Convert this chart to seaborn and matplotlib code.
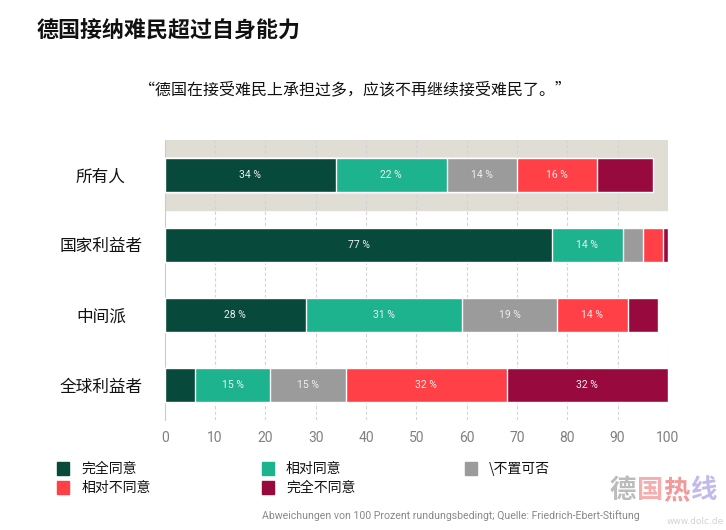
import matplotlib
matplotlib.use("Agg")
import matplotlib.pyplot as plt
import matplotlib.patches as mpatches
import numpy as np
import pandas as pd
import seaborn as sns

# 数据
groups = ["所有人", "国家利益者", "中间派", "全球利益者"]
answers = ["完全同意", "相对同意", "\\不置可否", "相对不同意", "完全不同意"]
fully_agree = [34, 77, 28, 6]
agree = [22, 14, 31, 15]
neutral = [14, 4, 19, 15]
disagree = [16, 4, 14, 32]
fully_disagree = [11, 1, 6, 32]
colors = ["#07493a", "#1db38e", "#9b9b9b", "#ff4046", "#98093e"]

values = np.array([fully_agree, agree, neutral, disagree, fully_disagree])
cums = values.cumsum(axis=0)

sns.set_theme(style="white")
plt.rcParams['font.family'] = ['Noto Sans CJK SC', 'DejaVu Sans']

fig = plt.figure(figsize=(7.26, 5.30), dpi=100)
ax = fig.add_axes([0.227, 0.2075, 0.693, 0.5285])

# 背景高亮带 (所有人)
ax.axhspan(-0.5, 0.5, color="#e0ddd5", zorder=0)

# 堆叠条形: 从总和往回画
for i in range(len(answers) - 1, -1, -1):
    df = pd.DataFrame({"group": groups, "value": cums[i]})
    sns.barplot(data=df, x="value", y="group", orient="h", color=colors[i],
                width=0.48, edgecolor="white", linewidth=1.0, saturation=1,
                ax=ax, zorder=3)

# 数值标签
for i in range(len(answers)):
    for j, g in enumerate(groups):
        v = values[i, j]
        if v >= 12:
            ax.text(cums[i, j] - v / 2, j, f"{v} %", ha="center", va="center",
                    color="#f0f0f0", fontsize=7.5, family=["Roboto", "DejaVu Sans"], zorder=5)

ax.set_xlim(0, 100)
ax.set_ylim(3.5, -0.5)
ax.set_xlabel("")
ax.set_ylabel("")
ax.set_xticks(range(0, 101, 10))
ax.set_xticklabels([str(t) for t in range(0, 101, 10)], color="#808080", fontsize=10,
                   family=["Roboto", "DejaVu Sans"])
ax.tick_params(axis="x", length=0, pad=8)
ax.tick_params(axis="y", which="major", length=0, pad=46, labelsize=12, labelcolor="#111111")
for lab in ax.get_yticklabels():
    lab.set_horizontalalignment("center")
ax.set_yticks([-0.5, 0.5, 1.5, 2.5, 3.5], minor=True)
ax.tick_params(axis="y", which="minor", length=8, color="#cccccc", width=0.8)
ax.grid(axis="x", linestyle=(0, (3, 2)), color="#d4d4d4", linewidth=0.8, zorder=1)
ax.set_axisbelow(True)
for s in ["top", "right", "bottom"]:
    ax.spines[s].set_visible(False)
ax.spines["left"].set_color("#cccccc")
ax.spines["left"].set_linewidth(0.8)

# 标题
fig.text(0.051, 0.942, "德国接纳难民超过自身能力", fontsize=15.8, fontweight="bold",
         color="#111111", va="center")
fig.text(0.489, 0.830, "“德国在接受难民上承担过多，应该不再继续接受难民了。”", fontsize=11.5,
         color="#111111", va="center", ha="center")

# 图例
leg_pos = [(0.079, 0.116), (0.361, 0.116), (0.640, 0.116), (0.079, 0.080), (0.361, 0.080)]
for (x, y), lab, c in zip(leg_pos, answers, colors):
    fig.patches.append(mpatches.Rectangle((x, y - 0.012), 0.0165, 0.025, color=c,
                                          transform=fig.transFigure, figure=fig))
    fig.text(x + 0.033, y, lab, fontsize=10, va="center", color="#111111")

fig.text(0.361, 0.028, "Abweichungen von 100 Prozent rundungsbedingt; Quelle: Friedrich-Ebert-Stiftung",
         fontsize=7.6, color="#888888", va="center", family=["Roboto", "DejaVu Sans"])

# 水印
wm_colors = ["#b5b5b5", "#f4a5a5", "#ef8f8f", "#bdb3ea"]
for k, (ch, c) in enumerate(zip("德国热线", wm_colors)):
    fig.text(0.840 + k * 0.037, 0.075, ch, fontsize=19, fontweight="bold", color=c,
             va="center", family=["Noto Sans CJK SC"], alpha=0.9)
fig.text(0.997, 0.016, "www.dolc.de", fontsize=6.5, color="#c8c8c8", va="center", ha="right",
         family=["DejaVu Sans"], alpha=0.8)

plt.savefig("out.png", dpi=100)
